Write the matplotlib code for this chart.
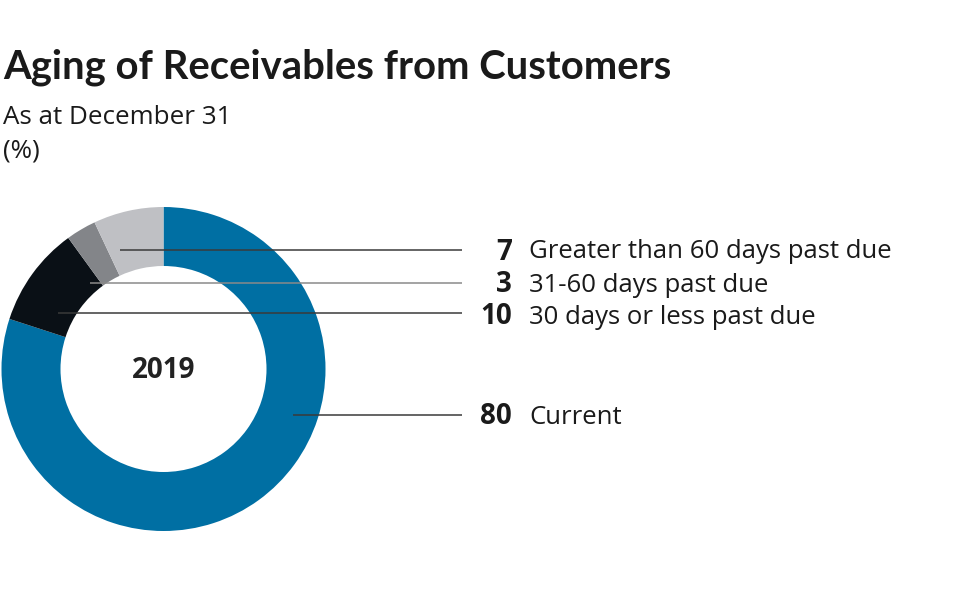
import matplotlib
matplotlib.use("Agg")
import matplotlib.pyplot as plt

# data
categories = ["Current", "30 days or less past due", "31-60 days past due",
              "Greater than 60 days past due"]
values = [80, 10, 3, 7]
colors = ["#006fa3", "#0a1016", "#838589", "#bfc0c4"]
year = "2019"

# label rows (pixel y of leader line, pixel x where the line starts in the ring)
label_rows = {
    "Greater than 60 days past due": (250, 120, "#3a3a3a"),
    "31-60 days past due": (283, 90, "#8a8a8a"),
    "30 days or less past due": (313, 58, "#3a3a3a"),
    "Current": (415, 293, "#3a3a3a"),
}

W, H = 976, 601
plt.rcParams['font.family'] = ['Open Sans', 'DejaVu Sans']

fig = plt.figure(figsize=(W / 100, H / 100), dpi=100)
ax = fig.add_axes([0, 0, 1, 1])

def py(y):
    return H - y

cx, cy, r_out, r_in = 163.5, 369, 162, 103
ax.pie(values, colors=colors, startangle=90, counterclock=False,
       center=(cx, py(cy)), radius=r_out, frame=True,
       wedgeprops=dict(width=r_out - r_in, linewidth=0))

ax.text(cx, py(370), year, ha='center', va='center', fontsize=20,
        fontweight='bold', color='#222222')

for cat, val in zip(categories, values):
    ly, lx, lc = label_rows[cat]
    ax.plot([lx, 462], [py(ly), py(ly)], color=lc, lw=1.1, solid_capstyle='butt')
    ty = ly + 4 if cat == "30 days or less past due" else ly + 2
    ax.text(512, py(ty), str(val), ha='right', va='center', fontsize=20,
            fontweight='bold', color='#1a1a1a')
    ax.text(529, py(ty), cat, ha='left', va='center', fontsize=18.5,
            color='#1a1a1a')

ax.text(3, py(79), "Aging of Receivables from Customers", ha='left',
        va='baseline', fontsize=28.8, fontweight='bold', color='#1a1a1a',
        family=['Lato', 'DejaVu Sans'])
ax.text(3, py(124), "As at December 31", ha='left', va='baseline',
        fontsize=18.7, color='#1a1a1a')
ax.text(3, py(157), "(%)", ha='left', va='baseline', fontsize=18.7,
        color='#1a1a1a')

ax.set_xlim(0, W)
ax.set_ylim(0, H)
ax.set_aspect('equal')
ax.axis('off')

fig.savefig("out.png", dpi=100)
